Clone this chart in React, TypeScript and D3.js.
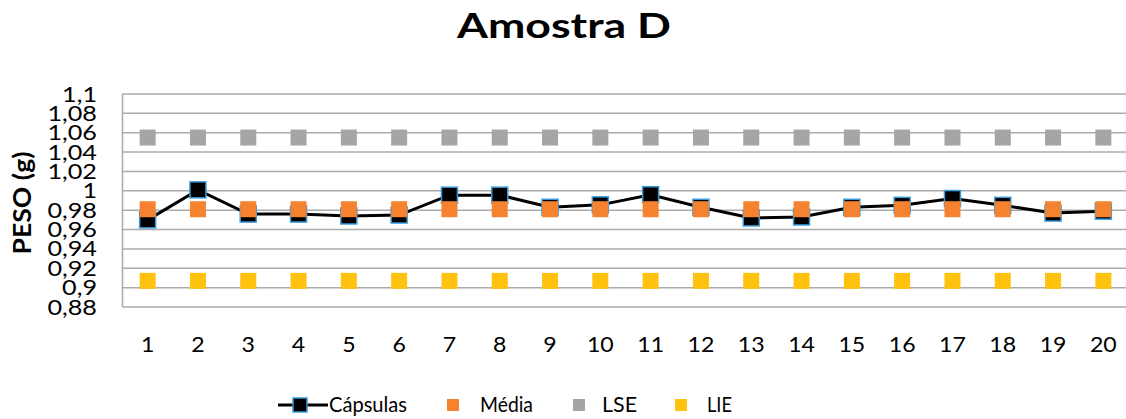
import React from "react";
import * as d3 from "d3";

const categories = ["1","2","3","4","5","6","7","8","9","10","11","12","13","14","15","16","17","18","19","20"];
const capsulas = [0.970, 1.001, 0.976, 0.976, 0.974, 0.975, 0.9955, 0.9955, 0.983, 0.9855, 0.996, 0.983, 0.972, 0.973, 0.983, 0.985, 0.992, 0.985, 0.977, 0.979];
const media = [0.981, 0.981, 0.981, 0.981, 0.981, 0.981, 0.981, 0.981, 0.981, 0.981, 0.981, 0.981, 0.981, 0.981, 0.981, 0.981, 0.981, 0.981, 0.981, 0.981];
const lse = [1.055, 1.055, 1.055, 1.055, 1.055, 1.055, 1.055, 1.055, 1.055, 1.055, 1.055, 1.055, 1.055, 1.055, 1.055, 1.055, 1.055, 1.055, 1.055, 1.055];
const lie = [0.907, 0.907, 0.907, 0.907, 0.907, 0.907, 0.907, 0.907, 0.907, 0.907, 0.907, 0.907, 0.907, 0.907, 0.907, 0.907, 0.907, 0.907, 0.907, 0.907];
const yTicks = [0.88, 0.9, 0.92, 0.94, 0.96, 0.98, 1.0, 1.02, 1.04, 1.06, 1.08, 1.1];
const yTickLabels = ["0,88", "0,9", "0,92", "0,94", "0,96", "0,98", "1", "1,02", "1,04", "1,06", "1,08", "1,1"];
const legendLabels = ["Cápsulas", "Média", "LSE", "LIE"];
const title = "Amostra D";
const yTitle = "PESO (g)";

const W = 1126, H = 419;
const left = 122.5, right = 1128.5, top = 94, bottom = 307;
const FONT = "Lato, 'Open Sans', sans-serif";
const GRID = "#ABABAB";
const ORANGE = "#F5822F";
const GRAY = "#A5A5A5";
const YELLOW = "#FFC20E";
const BLUE = "#3A9AD9";

export default function App() {
  const x = d3.scaleBand<string>().domain(categories).range([left, right]).padding(0);
  const cx = (c: string) => (x(c) as number) + x.bandwidth() / 2;
  const y = d3.scaleLinear().domain([0.88, 1.1]).range([bottom, top]);
  const line = d3.line<number>().x((_, i) => cx(categories[i])).y((d) => y(d));
  const ms = 16;

  const squares = (vals: number[], fill: string, key: string) =>
    vals.map((v, i) => (
      <rect key={key + i} x={cx(categories[i]) - ms / 2} y={y(v) - ms / 2} width={ms} height={ms} fill={fill} />
    ));

  return (
    <svg width={W} height={H} style={{ position: "absolute", left: 0, top: 0, background: "#fff" }}>
      <rect x={0} y={0} width={W} height={H} fill="#fff" />
      {yTicks.map((t) => (
        <line key={"g" + t} x1={left} x2={right} y1={y(t)} y2={y(t)} stroke={GRID} strokeWidth={1.5} />
      ))}
      <line x1={left} x2={left} y1={top} y2={bottom} stroke={GRID} strokeWidth={1.5} />
      {yTicks.map((t, i) => (
        <text key={"yt" + t} transform={`translate(97,${y(t) + 7.5}) scale(1.2,1)`} textAnchor="end" fontFamily={FONT} fontSize={21} fill="#000">
          {yTickLabels[i]}
        </text>
      ))}
      {categories.map((c) => (
        <text key={"xl" + c} transform={`translate(${cx(c)},352) scale(1.1,1)`} textAnchor="middle" fontFamily={FONT} fontSize={21} fill="#000">
          {c}
        </text>
      ))}
      <path d={line(capsulas) || ""} fill="none" stroke="#000" strokeWidth={3} />
      {capsulas.map((v, i) => (
        <rect key={"c" + i} x={cx(categories[i]) - 8} y={y(v) - 8} width={16} height={16} fill="#000" stroke={BLUE} strokeWidth={1.5} />
      ))}
      {squares(media, ORANGE, "m")}
      {squares(lse, GRAY, "s")}
      {squares(lie, YELLOW, "l")}
      <text x={564} y={38} textAnchor="middle" fontFamily={FONT} fontWeight="bold" fontSize={35} textLength={214} lengthAdjust="spacingAndGlyphs" fill="#000">
        {title}
      </text>
      <text transform="translate(31,203) rotate(-90)" textAnchor="middle" fontFamily={FONT} fontWeight="bold" fontSize={24} textLength={103} lengthAdjust="spacingAndGlyphs" fill="#000">
        {yTitle}
      </text>
      <g>
        <line x1={278} x2={328} y1={405} y2={405} stroke="#000" strokeWidth={3} />
        <rect x={293} y={398} width={14} height={14} fill="#000" stroke={BLUE} strokeWidth={1.5} />
        <text x={329} y={412} fontFamily={FONT} fontSize={22} textLength={78} lengthAdjust="spacingAndGlyphs">{legendLabels[0]}</text>
        <rect x={447} y={399} width={12} height={12} fill={ORANGE} />
        <text x={480} y={412} fontFamily={FONT} fontSize={22} textLength={53} lengthAdjust="spacingAndGlyphs">{legendLabels[1]}</text>
        <rect x={573} y={399} width={12} height={12} fill={GRAY} />
        <text x={602} y={412} fontFamily={FONT} fontSize={22} textLength={35} lengthAdjust="spacingAndGlyphs">{legendLabels[2]}</text>
        <rect x={675} y={399} width={12} height={12} fill={YELLOW} />
        <text x={707} y={412} fontFamily={FONT} fontSize={22} textLength={25} lengthAdjust="spacingAndGlyphs">{legendLabels[3]}</text>
      </g>
    </svg>
  );
}
